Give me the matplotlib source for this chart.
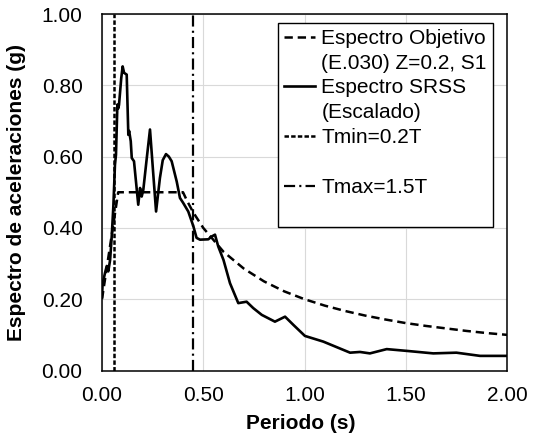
import matplotlib
matplotlib.use("Agg")
import matplotlib.pyplot as plt
from matplotlib.lines import Line2D
from matplotlib.ticker import FormatStrFormatter

plt.rcParams['font.family'] = ['Liberation Sans', 'DejaVu Sans']
plt.rcParams['font.size'] = 15
plt.rcParams['lines.scale_dashes'] = False

# espectro objetivo E.030 (Z=0.2, S1)
t_obj = [0.0, 0.08, 0.40, 0.42, 0.45, 0.50, 0.60, 0.70, 0.80, 0.90, 1.00, 1.10, 1.20,
         1.30, 1.40, 1.50, 1.60, 1.70, 1.80, 1.90, 2.00]
sa_obj = [0.200, 0.500, 0.500, 0.476, 0.444, 0.400, 0.333, 0.286, 0.250, 0.222, 0.200,
          0.182, 0.167, 0.154, 0.143, 0.133, 0.125, 0.118, 0.111, 0.105, 0.100]

# espectro SRSS escalado
t_srss = [0.000, 0.003, 0.015, 0.023, 0.031, 0.040, 0.048, 0.056, 0.064, 0.069, 0.076,
          0.080, 0.084, 0.095, 0.102, 0.109, 0.122, 0.130, 0.134, 0.142, 0.147, 0.158,
          0.179, 0.188, 0.196, 0.204, 0.220, 0.237, 0.252, 0.267, 0.286, 0.300, 0.316,
          0.330, 0.344, 0.369, 0.385, 0.401, 0.426, 0.451, 0.467, 0.484, 0.525, 0.542,
          0.558, 0.574, 0.600, 0.632, 0.673, 0.714, 0.747, 0.789, 0.854, 0.904, 0.945,
          1.002, 1.093, 1.225, 1.274, 1.323, 1.406, 1.505, 1.636, 1.750, 1.867, 2.000]
sa_srss = [0.207, 0.243, 0.274, 0.292, 0.278, 0.310, 0.376, 0.460, 0.577, 0.605, 0.746,
           0.735, 0.745, 0.820, 0.853, 0.835, 0.830, 0.661, 0.672, 0.643, 0.596, 0.587,
           0.465, 0.512, 0.488, 0.507, 0.590, 0.676, 0.560, 0.446, 0.540, 0.590, 0.607,
           0.600, 0.587, 0.530, 0.484, 0.470, 0.446, 0.405, 0.372, 0.367, 0.368, 0.376,
           0.381, 0.348, 0.310, 0.245, 0.189, 0.193, 0.175, 0.156, 0.137, 0.151, 0.128,
           0.097, 0.081, 0.050, 0.052, 0.048, 0.060, 0.055, 0.048, 0.050, 0.041, 0.041]

t_min = 0.06
t_max = 0.45

labels = ['Espectro Objetivo', '(E.030) Z=0.2, S1', 'Espectro SRSS', '(Escalado)',
          'Tmin=0.2T', ' ', 'Tmax=1.5T', ' ']

fig = plt.figure(figsize=(5.38, 4.36), dpi=100)
ax = fig.add_axes([102/538, 65.5/436, 405/538, 356.5/436])

ax.grid(True, color='#d9d9d9', linewidth=0.8)
ax.set_axisbelow(True)

obj_ls = (0, (6, 3.5))
tmin_ls = (0, (3.2, 1.6))
tmax_ls = (0, (8, 3, 1.5, 3))

ax.plot(t_obj, sa_obj, color='black', linewidth=1.8, linestyle=obj_ls)
ax.plot(t_srss, sa_srss, color='black', linewidth=1.9, solid_joinstyle='round')
ax.plot([t_min, t_min], [0, 1], color='black', linewidth=1.8, linestyle=tmin_ls)
ax.plot([t_max, t_max], [0, 1], color='black', linewidth=1.6, linestyle=tmax_ls)

ax.set_xlim(0, 2)
ax.set_ylim(0, 1)
ax.set_xticks([0, 0.5, 1.0, 1.5, 2.0])
ax.set_yticks([0, 0.2, 0.4, 0.6, 0.8, 1.0])
ax.xaxis.set_major_formatter(FormatStrFormatter('%.2f'))
ax.yaxis.set_major_formatter(FormatStrFormatter('%.2f'))
ax.tick_params(axis='x', length=0, pad=11)
ax.tick_params(axis='y', length=0, pad=14)
for s in ax.spines.values():
    s.set_linewidth(1.1)
    s.set_color('black')

ax.set_xlabel('Periodo (s)', fontweight='bold')
ax.set_ylabel('Espectro de aceleraciones (g)', fontweight='bold')
ax.xaxis.set_label_coords(0.49, -0.15)
ax.xaxis.label.set_va('center')
ax.yaxis.set_label_coords(-0.21, 0.5)
ax.yaxis.label.set_va('center')

blank = Line2D([], [], color='none')
handles = [Line2D([], [], color='black', lw=1.8, linestyle=obj_ls), blank,
           Line2D([], [], color='black', lw=1.9), blank,
           Line2D([], [], color='black', lw=1.8, linestyle=tmin_ls), blank,
           Line2D([], [], color='black', lw=1.6, linestyle=tmax_ls), blank]
leg = fig.legend(handles, labels, loc='upper left', bbox_to_anchor=(278/538, 1 - 23/436),
                 borderaxespad=0, fancybox=False, framealpha=1, edgecolor='black',
                 handlelength=1.5, handletextpad=0.3, borderpad=0.28, labelspacing=0.28)
leg.get_frame().set_linewidth(1.0)

fig.savefig('out.png', dpi=100)
